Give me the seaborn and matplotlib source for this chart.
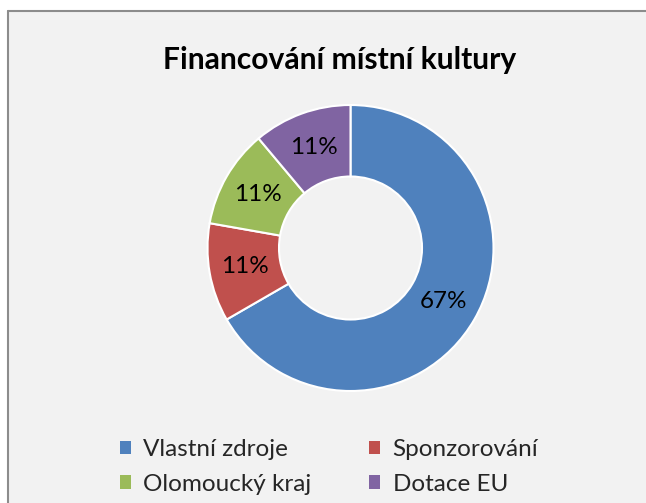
import matplotlib
matplotlib.use("Agg")
import matplotlib.pyplot as plt
import matplotlib.patches as mpatches
from matplotlib.lines import Line2D
import seaborn as sns

categories = ["Vlastní zdroje", "Sponzorování", "Olomoucký kraj", "Dotace EU"]
values = [6, 1, 1, 1]
colors = ["#4F81BD", "#C0504D", "#9BBB59", "#8064A2"]
title = "Financování místní kultury"

sns.set_style("white")
plt.rcParams["font.family"] = ["Lato", "DejaVu Sans"]

W, H = 646, 503
fig = plt.figure(figsize=(W / 100, H / 100), dpi=100)
fig.patch.set_facecolor("white")

# chart area background with border on top/left
x0, y0 = 8 / W, 1 - 11 / H
bg = mpatches.Rectangle((x0, 0), 1 - x0, y0, transform=fig.transFigure,
                        facecolor="#F2F2F2", edgecolor="none", zorder=-2)
fig.patches.append(bg)
fig.lines.append(Line2D([x0, x0], [0, y0], transform=fig.transFigure,
                        color="#8C8C8C", linewidth=1.5, zorder=-1))
fig.lines.append(Line2D([x0, 1], [y0, y0], transform=fig.transFigure,
                        color="#8C8C8C", linewidth=1.5, zorder=-1))

cx, cy, r = 350.5, 248, 143
ax = fig.add_axes([(cx - r) / W, (H - cy - r) / H, 2 * r / W, 2 * r / H], zorder=2)
ax.set_facecolor("none")
wedges, texts, autotexts = ax.pie(
    values, colors=colors, startangle=90, counterclock=False, radius=1,
    wedgeprops=dict(width=0.5, edgecolor="white", linewidth=1.5),
    autopct=lambda p: f"{p:.0f}%", pctdistance=0.75,
    textprops=dict(fontsize=17.5, color="black"))
ax.set_xlim(-1, 1)
ax.set_ylim(-1, 1)
ax.set_aspect("equal")
ax.axis("off")

fig.text(340 / W, 1 - 60 / H, title, ha="center", va="center",
         fontsize=21.6, fontweight="bold", color="black")

order = [0, 2, 1, 3]
handles = [mpatches.Patch(facecolor=colors[i], edgecolor="none") for i in order]
labels = [categories[i] for i in order]
leg = fig.legend(handles, labels, ncol=2, loc="center",
                 bbox_to_anchor=(329 / W, 1 - 467 / H), frameon=False,
                 fontsize=17.5, handlelength=0.45, handleheight=0.45,
                 handletextpad=0.5, columnspacing=2.4, labelspacing=0.55)

fig.savefig("out.png", dpi=100, facecolor=fig.get_facecolor())
